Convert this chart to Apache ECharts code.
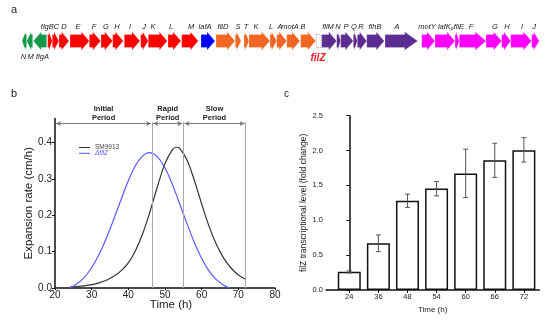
<!DOCTYPE html>
<html><head><meta charset="utf-8">
<script src="https://cdn.jsdelivr.net/npm/echarts@6/dist/echarts.min.js"></script>
<style>html,body{margin:0;padding:0;background:#fff}#c{width:550px;height:324px}</style>
</head><body><div id="c"></div>
<script>
// ---------- Panel a: gene cluster map (positions along the cluster) ----------
const geneNames  = ['N','M','flgA','flgB','flgC','D','E','F','G','H','I','J','K','L','M','lafA','fliD','S','T','K','L','A','motA','B','filZ','fliM','N','P','Q','R','flhB','A','motY','lafK','fliE','F','G','H','I','J'];
const geneStart  = [22,26.7,33.3,47.7,52.3,59,70,89.3,101,112.7,124.3,140.7,148.3,168,181.7,201,216,235.3,244,249,270,276.7,286.7,300.7,315.7,321.7,336.7,340.7,353.3,357.3,366.7,385,421.7,435,455,459.3,486,501.7,510.7,531.7];
const geneEnd    = [26.7,32.7,46.7,52.3,59,69,89.3,100.7,112.7,123.3,140,148.3,167.3,181,198.3,215,235,241,249,270,276.7,286.7,300,315.7,321.7,336.7,340.7,353.3,357.3,366.7,384.3,417.7,435,455,459.3,486,501.7,510.7,531.7,539.3];
const geneStrand = [-1,-1,-1,1,1,1,1,1,1,1,1,1,1,1,1,1,1,1,1,1,1,1,1,1,0,1,1,1,1,1,1,1,1,1,1,1,1,1,1,1];
const geneGroup  = ['flg1','flg1','flg1','flg2','flg2','flg2','flg2','flg2','flg2','flg2','flg2','flg2','flg2','flg2','flg2','laf','fli','fli','fli','fli','fli','fli','fli','fli','filZ','fli2','fli2','fli2','fli2','fli2','fli2','fli2','mot','mot','mot','mot','mot','mot','mot','mot'];
const geneLabels   = ['flgBC','D','E','F','G','H','I','J','K','L','M','lafA','fliD','S','T','K','L','A','motA','B','fliM','N','P','Q','R','flhB','A','motY','lafK{sub|p}fliE','F','G','H','I','J','N','M','flgA','filZ'];
const geneLabelX   = [50,64,78,94,106,117,130,144,153,171,191,205,223,238,246,256,271,280,290,303,328,338,346,354,361,375,397,427,451,471,495,507,522,534,23.5,30.5,42.5,318];
const geneLabelRow = [1,1,1,1,1,1,1,1,1,1,1,1,1,1,1,1,1,1,1,1,1,1,1,1,1,1,1,1,1,1,1,1,1,1,-1,-1,-1,-1];

// ---------- Panel b: expansion rate ----------
const smTime  = [24,26,28,30,32,34,36,38,40,42,44,46,48,50,52,53.2,54,56,58,60,62,64,66,68,70,72];
const smRate  = [0.0025,0.0039,0.006,0.0093,0.0142,0.0215,0.032,0.047,0.069,0.104,0.152,0.213,0.281,0.342,0.380,0.387,0.384,0.352,0.296,0.231,0.170,0.120,0.082,0.055,0.036,0.024];
const dfTime  = [24,25.8,27.8,29.8,31.8,33.8,35.8,37.8,39.8,41.8,43.8,45.8,47.8,49.8,51.8,53.8,55.8,57.8,59.8,61.8,63.8,65.8,67.6];
const dfRate  = [0,0.01,0.027,0.053,0.088,0.132,0.183,0.237,0.29,0.334,0.362,0.372,0.362,0.334,0.29,0.237,0.182,0.13,0.085,0.05,0.025,0.009,0];
const periodNames  = ['Initial\nPeriod','Rapid\nPeriod','Slow\nPeriod'];
const periodBounds = [20, 46.5, 55, 72];
const rateTicks = [0, 0.1, 0.2, 0.3, 0.4];

// ---------- Panel c: filZ transcription ----------
const times    = ['24','36','48','54','60','66','72'];
const filZMean = [0.263,0.67,1.28,1.455,1.67,1.86,2.005];
const filZLow  = [0.245,0.55,1.185,1.35,1.325,1.615,1.835];
const filZHigh = [0.275,0.79,1.375,1.555,2.02,2.105,2.185];

const FONT = 'Liberation Sans';
const groupColor = {flg1:'#149a4a', flg2:'#ff0000', laf:'#0000ff', fli:'#f26522', filZ:'#ffffff', fli2:'#5c2d91', mot:'#ff00ff'};

const chart = echarts.init(document.getElementById('c'), null, {renderer:'canvas'});

const axisLineStyle = {lineStyle:{color:'#111', width:1.5}};

const option = {
  animation: false,
  textStyle: {fontFamily: FONT},
  grid: [
    {left: 0, width: 550, top: 20, height: 42},
    {left: 55, width: 220, top: 118.5, height: 169.5},
    {left: 326, width: 213.3, top: 115.7, height: 174.3}
  ],
  xAxis: [
    {gridIndex:0, type:'value', min:0, max:550, show:false},
    {gridIndex:1, type:'value', min:20, max:80, interval:10, name:'Time (h)', nameLocation:'middle', nameGap:11, nameMoveOverlap:false,
     nameTextStyle:{fontSize:11.5, color:'#222', padding:[0,0,0,12]},
     axisLine:axisLineStyle, axisTick:{length:2, lineStyle:{color:'#111'}}, splitLine:{show:false},
     axisLabel:{fontSize:10, color:'#222', margin:2}},
    {gridIndex:2, type:'value', min:-0.8, max:6.53, name:'Time (h)', nameLocation:'middle', nameGap:16,
     nameTextStyle:{fontSize:8, color:'#222'},
     axisLine:axisLineStyle, splitLine:{show:false},
     axisTick:{length:3, customValues:[0,1,2,3,4,5,6], lineStyle:{color:'#111'}},
     axisLabel:{fontSize:7.5, color:'#222', margin:3, customValues:[0,1,2,3,4,5,6], formatter:v=>times[Math.round(v)]}}
  ],
  yAxis: [
    {gridIndex:0, type:'value', min:-1, max:1, show:false},
    {gridIndex:1, type:'value', min:0, max:0.466, name:'Expansion rate (cm/h)', nameLocation:'middle', nameGap:20, nameMoveOverlap:false,
     nameTextStyle:{fontSize:11.5, color:'#222'},
     axisLine:{show:true, lineStyle:{color:'#111', width:1.5}}, splitLine:{show:false},
     axisTick:{show:true, length:3, customValues:rateTicks, lineStyle:{color:'#111'}},
     axisLabel:{fontSize:10, color:'#222', margin:3, customValues:rateTicks, formatter:v=>v.toFixed(1)}},
    {gridIndex:2, type:'value', min:0, max:2.5, interval:0.5, name:'filZ transcriptional level (fold change)', nameLocation:'middle', nameGap:18,
     nameTextStyle:{fontSize:8.5, color:'#222'},
     axisLine:{show:true, lineStyle:{color:'#111', width:1.5}}, splitLine:{show:false},
     axisTick:{show:true, length:3, lineStyle:{color:'#111'}},
     axisLabel:{fontSize:7.5, color:'#222', margin:3, formatter:v=>v.toFixed(1)}}
  ],
  legend: {
    left: 74, top: 139, orient:'vertical', itemWidth: 11, itemHeight: 1, itemGap: -1.2, icon:'rect',
    textStyle: {fontSize: 6.5, color:'#444', fontFamily: FONT},
    data: [{name:'SM9913'}, {name:'ΔfilZ', textStyle:{color:'#5a5aff', fontStyle:'italic'}}]
  },
  graphic: [
    {type:'text', left:11, top:4, style:{text:'a', fontSize:11, fontFamily:FONT, fill:'#222'}},
    {type:'text', left:11, top:88, style:{text:'b', fontSize:11, fontFamily:FONT, fill:'#222'}},
    {type:'text', left:284, top:89, style:{text:'c', fontSize:10, fontFamily:FONT, fill:'#222'}}
  ],
  series: [
    {
      type:'custom', name:'genes', xAxisIndex:0, yAxisIndex:0, clip:false,
      data: geneStart.map((s,i)=>[s, geneEnd[i], geneStrand[i], i]),
      encode:{x:[0,1]},
      renderItem:(params, api)=>{
        const i = params.dataIndex;
        const p0 = api.coord([geneStart[i], 0]), p1 = api.coord([geneEnd[i], 0]);
        const cy = p0[1], x0 = p0[0], x1 = p1[0], len = x1 - x0;
        const hh = 9.3, bh = 6.5;
        const col = groupColor[geneGroup[i]];
        if (geneStrand[i] === 0) {
          return {type:'rect', shape:{x:x0+0.5, y:cy-bh, width:len-1, height:2*bh},
                  style:{fill:'#fff', stroke:'#999', lineWidth:0.8, lineDash:[1.5,1]}};
        }
        const head = Math.min(len*0.75, Math.max(8, len*0.4));
        let pts;
        if (geneStrand[i] > 0) pts = [[x0,cy-bh],[x1-head,cy-bh],[x1-head,cy-hh],[x1,cy],[x1-head,cy+hh],[x1-head,cy+bh],[x0,cy+bh]];
        else pts = [[x1,cy-bh],[x0+head,cy-bh],[x0+head,cy-hh],[x0,cy],[x0+head,cy+hh],[x0+head,cy+bh],[x1,cy+bh]];
        return {type:'polygon', shape:{points:pts}, style:{fill:col, stroke:'rgba(255,255,255,0.8)', lineWidth:0.3}};
      }
    },
    {
      type:'custom', name:'geneLabels', xAxisIndex:0, yAxisIndex:0, clip:false,
      data: geneLabelX.map((x,i)=>[x, geneLabelRow[i]]),
      renderItem:(params, api)=>{
        const i = params.dataIndex;
        const p = api.coord([geneLabelX[i], 0]);
        const isF = geneLabels[i] === 'filZ';
        return {type:'text', x:p[0], y:p[1] + (geneLabelRow[i] > 0 ? -14.5 : (isF ? 17 : 16)),
          style:{text:geneLabels[i], fill: isF ? '#ee1c24' : '#222', fontFamily:FONT, fontStyle:'italic',
                 fontWeight: isF ? 'bold' : 'normal', fontSize: isF ? 10 : 7.5, align:'center', verticalAlign:'middle',
                 rich:{sub:{fontSize:5, fontStyle:'italic', fontFamily:FONT, fill:'#222', padding:[4,0,0,0]}}}};
      }
    },
    {
      type:'line', name:'SM9913', xAxisIndex:1, yAxisIndex:1, symbol:'none', smooth:0.4,
      lineStyle:{color:'#333', width:1.2}, itemStyle:{color:'#333'},
      data: smTime.map((t,i)=>[t, smRate[i]]),
      markLine: {
        silent:true, symbol:'none', animation:false,
        lineStyle:{color:'#aaa', width:1, type:'solid'}, label:{show:false},
        data: periodBounds.slice(1).map(b=>[{coord:[b,0]},{coord:[b,0.456]}])
      },
      z: 3
    },
    {
      type:'line', name:'ΔfilZ', xAxisIndex:1, yAxisIndex:1, symbol:'none', smooth:0.4,
      lineStyle:{color:'#5a5aff', width:1.2}, itemStyle:{color:'#5a5aff'},
      data: dfTime.map((t,i)=>[t, dfRate[i]]),
      markLine: {
        silent:true, symbol:['arrow','arrow'], symbolSize:[4,5], animation:false,
        lineStyle:{color:'#777', width:1, type:'solid'},
        label:{show:true, position:'middle', distance:1, formatter:'{b}', fontSize:7.5, fontWeight:'bold', color:'#222', lineHeight:9, fontFamily:FONT},
        data: periodNames.map((n,i)=>[{name:n, coord:[periodBounds[i]+0.3,0.452]},{coord:[periodBounds[i+1]-0.3,0.452]}])
      },
      z: 3
    },
    {
      type:'bar', name:'filZ', xAxisIndex:2, yAxisIndex:2, barWidth:23,
      itemStyle:{color:'#fff', borderColor:'#111', borderWidth:1.5},
      data: filZMean.map((v,i)=>[i, v])
    },
    {
      type:'custom', name:'err', xAxisIndex:2, yAxisIndex:2, z:5,
      data: filZMean.map((v,i)=>[i, filZLow[i], filZHigh[i]]),
      encode:{x:0, y:[1,2]},
      renderItem:(params, api)=>{
        const i = params.dataIndex;
        const pl = api.coord([i, filZLow[i]]), ph = api.coord([i, filZHigh[i]]);
        const w = 2.5, st = {stroke:'#555', lineWidth:1};
        return {type:'group', children:[
          {type:'line', shape:{x1:pl[0], y1:pl[1], x2:ph[0], y2:ph[1]}, style:st},
          {type:'line', shape:{x1:pl[0]-w, y1:pl[1], x2:pl[0]+w, y2:pl[1]}, style:st},
          {type:'line', shape:{x1:ph[0]-w, y1:ph[1], x2:ph[0]+w, y2:ph[1]}, style:st}
        ]};
      }
    }
  ]
};
chart.setOption(option);
</script></body></html>
